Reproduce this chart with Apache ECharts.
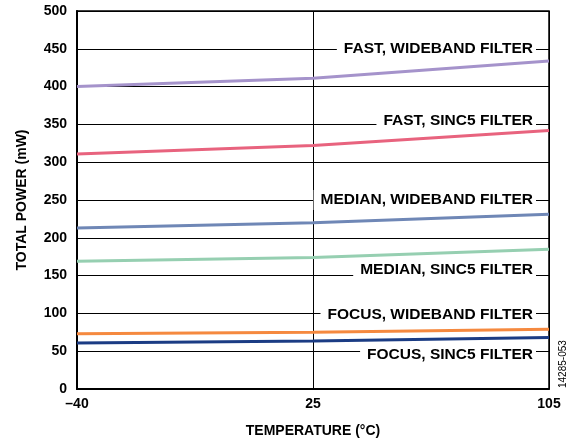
<!DOCTYPE html>
<html>
<head>
    <meta charset="utf-8">
    <title>Total Power vs Temperature</title>
    <script src="https://cdn.jsdelivr.net/npm/echarts@6/dist/echarts.min.js"></script>
</head>
<body style="margin:0">
    <div id="main" style="width: 576px;height:446px;"></div>
    <script type="text/javascript">
        // temperature points (category axis, evenly spaced like the reference)
        var temps = ['\u201340', '25', '105'];

        var fastWide   = [400, 411, 434];
        var fastSinc5  = [311, 322, 342];
        var medWide    = [213, 220, 231];
        var medSinc5   = [169, 174, 185];
        var focusWide  = [73, 75, 79];
        var focusSinc5 = [61, 63.5, 68];

        var names  = ['FAST, WIDEBAND FILTER', 'FAST, SINC5 FILTER', 'MEDIAN, WIDEBAND FILTER',
                      'MEDIAN, SINC5 FILTER', 'FOCUS, WIDEBAND FILTER', 'FOCUS, SINC5 FILTER'];
        // gridline value each label sits on
        var labelAt = [450, 350, 250, 150, 100, 50];
        // small vertical nudge of each label relative to its gridline (px)
        var labelNudge = [0, -4, 0, -6, 1, 4];

        var colors = ['#a593cb', '#e8637e', '#6f87b6', '#96cfb1', '#f5893f', '#1b3c84'];
        var allData = [fastWide, fastSinc5, medWide, medSinc5, focusWide, focusSinc5];

        var font = 'Liberation Sans, Arial, sans-serif';
        var myChart = echarts.init(document.getElementById('main'));

        var series = allData.map(function (d, i) {
            return {
                name: names[i],
                type: 'line',
                data: d,
                symbol: 'none',
                lineStyle: { color: colors[i], width: 3 },
                z: 3
            };
        });

        var option = {
            animation: false,
            backgroundColor: '#fff',
            grid: {
                left: 77, right: 27, top: 11, bottom: 57,
                show: true, borderColor: '#000', borderWidth: 1.5
            },
            xAxis: {
                type: 'category',
                data: temps,
                boundaryGap: false,
                name: 'TEMPERATURE (\u00b0C)',
                nameLocation: 'middle',
                nameGap: 35,
                nameTextStyle: { fontFamily: font, fontWeight: 'bold', fontSize: 14, color: '#000' },
                axisLine: { lineStyle: { color: '#000', width: 2 } },
                axisTick: { show: false },
                axisLabel: { fontFamily: font, fontWeight: 'bold', fontSize: 14, color: '#000', margin: 8 },
                splitLine: { show: true, lineStyle: { color: '#000', width: 1 } }
            },
            yAxis: {
                type: 'value',
                min: 0, max: 500, interval: 50,
                name: 'TOTAL POWER (mW)',
                nameLocation: 'middle',
                nameGap: 48,
                nameTextStyle: { fontFamily: font, fontWeight: 'bold', fontSize: 14, color: '#000' },
                axisLine: { show: true, lineStyle: { color: '#000', width: 2 } },
                axisTick: { show: false },
                axisLabel: { fontFamily: font, fontWeight: 'bold', fontSize: 14, color: '#000', margin: 10 },
                splitLine: { show: true, lineStyle: { color: '#000', width: 1 } }
            },
            series: series
        };
        myChart.setOption(option);

        // inline labels sitting on gridlines, with a white box hiding the line
        var rightEdge = myChart.convertToPixel({ xAxisIndex: 0 }, temps[temps.length - 1]);
        var graphics = names.map(function (n, i) {
            var y = myChart.convertToPixel({ yAxisIndex: 0 }, labelAt[i]);
            return {
                type: 'text',
                x: rightEdge - 13,
                y: y + labelNudge[i],
                z: 2,
                style: {
                    text: n,
                    fontFamily: font,
                    fontWeight: 'bold',
                    fontSize: 15.5,
                    fill: '#000',
                    align: 'right',
                    verticalAlign: 'middle',
                    backgroundColor: '#fff',
                    padding: [2, 3, 2, 7]
                }
            };
        });
        graphics.push({
            type: 'text',
            x: 563,
            y: 388,
            rotation: Math.PI / 2,
            style: {
                text: '14285-053',
                fontFamily: font,
                fontSize: 10,
                fill: '#000',
                align: 'left',
                verticalAlign: 'middle'
            }
        });
        myChart.setOption({ graphic: graphics });
    </script>
</body>
</html>
